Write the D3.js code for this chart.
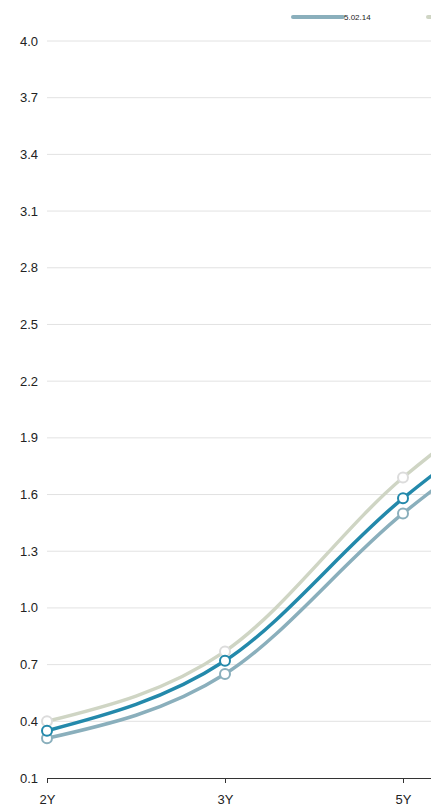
<!DOCTYPE html>
<html><head><meta charset="utf-8">
<script src="https://cdn.jsdelivr.net/npm/d3@7"></script>
<style>
html,body{margin:0;padding:0;background:#fff;overflow:hidden}
svg{display:block;font-family:"Liberation Sans",Arial,sans-serif}
</style></head>
<body>
<script>
const categories = ["2Y","3Y","5Y","7Y","10Y","30Y"];
const seriesNames = ["5.02.14","4.02.14","3.01.14"];
const seriesA = [0.31,0.65,1.50,2.17,2.69,3.63];
const seriesB = [0.35,0.72,1.58,2.25,2.76,3.66];
const seriesC = [0.40,0.77,1.69,2.36,2.87,3.76];
const yTicks = [0.1,0.4,0.7,1.0,1.3,1.6,1.9,2.2,2.5,2.8,3.1,3.4,3.7,4.0];
const colors = ["#8aafbc","#2389ab","#cfd5c4"];
const markerStroke = ["#8aafbc","#2389ab","#dcdcdc"];

const W=431,H=807;
const svg=d3.select("body").append("svg").attr("width",W).attr("height",H);
const x=d3.scalePoint().domain(categories).range([47,47+178*(categories.length-1)]);
const y=d3.scaleLinear().domain([0.1,4.0]).range([778,41]);

// grid
svg.append("g").selectAll("line").data(yTicks.slice(1)).join("line")
  .attr("x1",47).attr("x2",W).attr("y1",d=>y(d)).attr("y2",d=>y(d))
  .attr("stroke","#e2e2e2").attr("stroke-width",1);

// y labels
svg.append("g").selectAll("text").data(yTicks).join("text")
  .attr("x",38).attr("y",d=>y(d)).attr("dy","0.35em").attr("text-anchor","end")
  .attr("font-size",13).attr("fill","#222").text(d=>d.toFixed(1));

// x axis (only ticks inside the visible area)
const visibleCats=categories.filter(c=>x(c)<W-10);
const xa=svg.append("g").attr("transform","translate(0,778)")
  .call(d3.axisBottom(x).tickValues(visibleCats).tickSize(5).tickPadding(12));
xa.select(".domain").attr("stroke","#333").attr("d","M47,0.5H"+W);
xa.selectAll(".tick line").attr("stroke","#333");
xa.selectAll(".tick text").attr("font-size",13).attr("fill","#222").attr("font-family","Liberation Sans, Arial, sans-serif");

const data=[seriesA,seriesB,seriesC];
const line=d3.line().x((d,i)=>x(categories[i])).y(d=>y(d)).curve(d3.curveMonotoneX);
const order=[2,0,1];
order.forEach(k=>{
  svg.append("path").datum(data[k]).attr("d",line).attr("fill","none")
    .attr("stroke",colors[k]).attr("stroke-width",3.5).attr("stroke-linejoin","round");
});
order.forEach(k=>{
  svg.append("g").selectAll("circle").data(data[k]).join("circle")
    .attr("cx",(d,i)=>x(categories[i])).attr("cy",d=>y(d)).attr("r",5)
    .attr("fill","#fff").attr("stroke",markerStroke[k]).attr("stroke-width",2);
});

// legend (order: A, C, B); only the items that start inside the view
const legendOrder=[0,2,1];
const lg=svg.append("g");
legendOrder.forEach((k,j)=>{
  const lx=293+135*j;
  if(lx>W) return;
  const g=lg.append("g").attr("transform",`translate(${lx},17)`);
  g.append("line").attr("x1",0).attr("x2",50).attr("stroke",colors[k]).attr("stroke-width",4).attr("stroke-linecap","round");
  g.append("circle").attr("cx",24).attr("r",1.5).attr("fill",colors[k]);
  if(lx+51<W-20) g.append("text").attr("x",51).attr("dy","0.35em").attr("font-size",8).attr("fill","#222").text(seriesNames[k]);
});
</script>
</body></html>
